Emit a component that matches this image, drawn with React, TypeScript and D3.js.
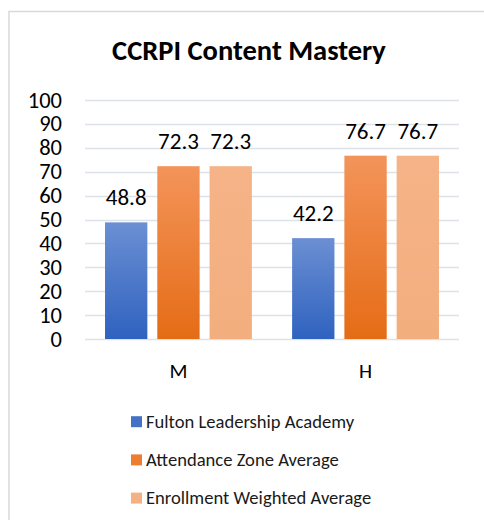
import React, { useRef, useEffect } from "react";
import * as d3 from "d3";

const CATEGORIES = ["M", "H"];
const SERIES = [
  "Fulton Leadership Academy",
  "Attendance Zone Average",
  "Enrollment Weighted Average",
];
const FULTON = [48.8, 42.2];
const ZONE = [72.3, 76.7];
const ENROLLMENT = [72.3, 76.7];
const Y_TICKS = [0, 10, 20, 30, 40, 50, 60, 70, 80, 90, 100];

const COLORS = [
  { top: "#6b8fd3", bottom: "#2f62bf", flat: "#4472c4" },
  { top: "#f3945a", bottom: "#e56c16", flat: "#ed7d31" },
  { top: "#f5b387", bottom: "#f3ae7e", flat: "#f4b183" },
];

const FONT = "Carlito, Calibri, 'Open Sans', 'Liberation Sans', sans-serif";

export default function App() {
  const svgRef = useRef<SVGSVGElement>(null);
  const width = 484;
  const height = 520;

  useEffect(() => {
    if (!svgRef.current) return;
    const svg = d3.select(svgRef.current);
    svg.selectAll("*").remove();

    const margin = { top: 100, right: 25, bottom: 181, left: 85 };
    const w = width - margin.left - margin.right;
    const h = height - margin.top - margin.bottom;

    // gradients
    const defs = svg.append("defs");
    COLORS.forEach((c, i) => {
      const lg = defs
        .append("linearGradient")
        .attr("id", `grad${i}`)
        .attr("x1", 0)
        .attr("y1", 0)
        .attr("x2", 0)
        .attr("y2", 1);
      lg.append("stop").attr("offset", "0%").attr("stop-color", c.top);
      lg.append("stop").attr("offset", "100%").attr("stop-color", c.bottom);
    });

    // chart frame
    svg
      .append("rect")
      .attr("x", 9)
      .attr("y", 11.5)
      .attr("width", 600)
      .attr("height", 600)
      .attr("fill", "white")
      .attr("stroke", "#d9d9d9")
      .attr("stroke-width", 1.5);

    svg
      .append("text")
      .attr("x", 249)
      .attr("y", 60)
      .attr("text-anchor", "middle")
      .style("font-family", FONT)
      .style("font-size", "28.5px")
      .style("font-weight", "bold")
      .style("fill", "#000")
      .text("CCRPI Content Mastery");

    const g = svg
      .append("g")
      .attr("transform", `translate(${margin.left},${margin.top})`);

    const x0 = d3
      .scaleBand()
      .domain(CATEGORIES)
      .range([0, w])
      .paddingInner(0.215)
      .paddingOuter(0.107);
    const x1 = d3
      .scaleBand()
      .domain(SERIES)
      .range([0, x0.bandwidth()])
      .paddingInner(0.19);
    const y = d3.scaleLinear().domain([0, 100]).range([h, 0]);

    // gridlines
    g.selectAll(".grid")
      .data(Y_TICKS)
      .enter()
      .append("line")
      .attr("x1", 0)
      .attr("x2", w)
      .attr("y1", (d) => Math.round(y(d)) + 0.5)
      .attr("y2", (d) => Math.round(y(d)) + 0.5)
      .attr("stroke", "#dde2e8")
      .attr("stroke-width", 1.5);

    // y tick labels
    g.selectAll(".ytick")
      .data(Y_TICKS)
      .enter()
      .append("text")
      .attr("x", -23)
      .attr("y", (d) => y(d) + 7.5)
      .attr("text-anchor", "end")
      .style("font-family", FONT)
      .style("font-size", "22.5px")
      .style("fill", "#000")
      .text((d) => String(d));

    const seriesValues = [FULTON, ZONE, ENROLLMENT];

    seriesValues.forEach((vals, si) => {
      const name = SERIES[si];
      g.selectAll(`.bar${si}`)
        .data(vals)
        .enter()
        .append("rect")
        .attr("x", (_d, i) => (x0(CATEGORIES[i]) ?? 0) + (x1(name) ?? 0))
        .attr("y", (d) => y(d))
        .attr("width", x1.bandwidth())
        .attr("height", (d) => h - y(d))
        .attr("fill", `url(#grad${si})`);

      g.selectAll(`.lbl${si}`)
        .data(vals)
        .enter()
        .append("text")
        .attr(
          "x",
          (_d, i) =>
            (x0(CATEGORIES[i]) ?? 0) + (x1(name) ?? 0) + x1.bandwidth() / 2
        )
        .attr("y", (d) => y(d) - 17)
        .attr("text-anchor", "middle")
        .style("font-family", FONT)
        .style("font-size", "23px")
        .style("fill", "#000")
        .text((d) => d.toFixed(1));
    });

    // category labels
    g.selectAll(".cat")
      .data(CATEGORIES)
      .enter()
      .append("text")
      .attr("x", (d) => (x0(d) ?? 0) + x0.bandwidth() / 2)
      .attr("y", h + 39)
      .attr("text-anchor", "middle")
      .style("font-family", FONT)
      .style("font-size", "21px")
      .style("fill", "#000")
      .text((d) => d);

    // legend
    SERIES.forEach((s, i) => {
      const ly = 421.7 + i * 38.2;
      const lg = svg.append("g").attr("transform", `translate(131,${ly})`);
      lg.append("rect")
        .attr("x", 0)
        .attr("y", -5.5)
        .attr("width", 11)
        .attr("height", 11)
        .attr("fill", COLORS[i].flat);
      lg.append("text")
        .attr("x", 15)
        .attr("y", 6)
        .style("font-family", FONT)
        .style("font-size", "18.6px")
        .style("fill", "#1a1a1a")
        .text(s);
    });
  }, []);

  return (
    <svg
      ref={svgRef}
      width={width}
      height={height}
      style={{ position: "absolute", left: 0, top: 0, background: "white" }}
      viewBox={`0 0 ${width} ${height}`}
    />
  );
}
